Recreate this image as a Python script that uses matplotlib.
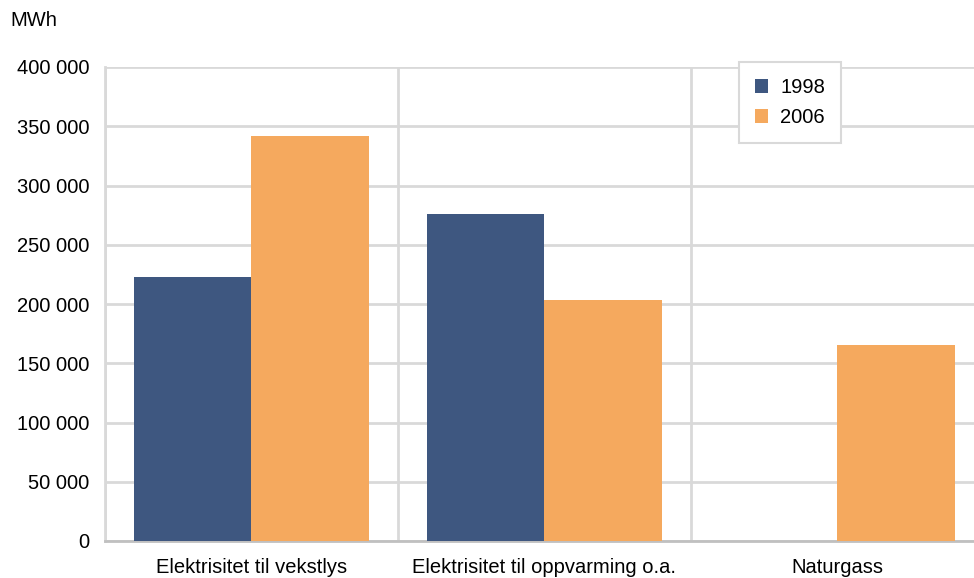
import matplotlib.pyplot as plt
import numpy as np

plt.rcParams['font.family'] = ['Liberation Sans', 'DejaVu Sans']

# Data
kategorier = ['Elektrisitet til vekstlys', 'Elektrisitet til oppvarming o.a.', 'Naturgass']
verdier_1998 = [223000, 276000, 0]
verdier_2006 = [342000, 203500, 165000]
y_ticks = [0, 50000, 100000, 150000, 200000, 250000, 300000, 350000, 400000]

farge_1998 = '#3e5780'
farge_2006 = '#f5a95e'
grid_farge = '#d9d9d9'
fs = 14.5

fig = plt.figure(figsize=(9.74, 5.78), dpi=100)
ax = fig.add_axes([105 / 974, 1 - 541 / 578, 879 / 974, 474 / 578])

x = np.arange(len(kategorier))
b = 0.4
ax.bar(x - b / 2, verdier_1998, width=b, color=farge_1998, label='1998', zorder=3)
ax.bar(x + b / 2, verdier_2006, width=b, color=farge_2006, label='2006', zorder=3)

ax.set_xlim(-0.5, len(kategorier) - 0.5)
ax.set_ylim(0, 400000)
ax.set_yticks(y_ticks)
ax.set_yticklabels([f'{v:,}'.replace(',', ' ') for v in y_ticks], fontsize=fs)
ax.set_xticks(x)
ax.set_xticklabels(kategorier, fontsize=fs)
ax.set_xticks(np.arange(len(kategorier) + 1) - 0.5, minor=True)

ax.grid(axis='y', color=grid_farge, linewidth=2, zorder=0)
ax.grid(axis='x', which='minor', color=grid_farge, linewidth=2, zorder=0)
ax.tick_params(axis='both', which='both', length=0)
ax.tick_params(axis='y', pad=11)
ax.tick_params(axis='x', pad=12)

for s in ['top', 'right']:
    ax.spines[s].set_visible(False)
ax.spines['left'].set_color(grid_farge)
ax.spines['left'].set_linewidth(2)
ax.spines['bottom'].set_color('#c0c0c0')
ax.spines['bottom'].set_linewidth(2)

fig.text(10 / 974, 1 - 20 / 578, 'MWh', fontsize=fs, va='center', ha='left')

leg = ax.legend(loc='upper left', bbox_to_anchor=(739 / 974, 1 - 62 / 578),
                bbox_transform=fig.transFigure, borderaxespad=0, fontsize=fs,
                fancybox=False, framealpha=1, edgecolor=grid_farge,
                handlelength=0.65, handleheight=0.65, labelspacing=0.55,
                borderpad=0.8, handletextpad=0.6)
leg.get_frame().set_linewidth(1.5)

plt.savefig('out.png', dpi=100)
